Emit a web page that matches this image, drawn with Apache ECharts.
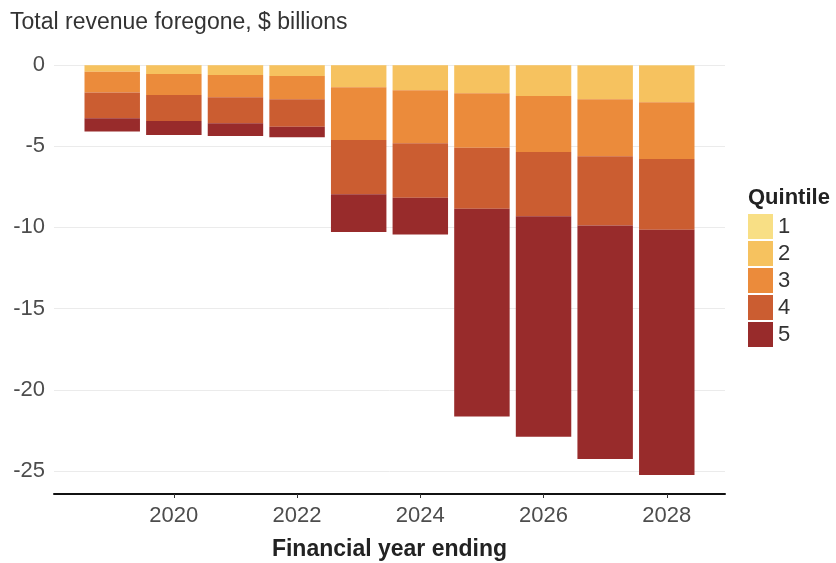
<!DOCTYPE html>
<html>
<head>
<meta charset="utf-8">
<script src="https://cdn.jsdelivr.net/npm/echarts@6/dist/echarts.min.js"></script>
<style>
html, body { margin: 0; padding: 0; background: #fff; }
#chart { width: 836px; height: 563px; }
</style>
</head>
<body>
<div id="chart"></div>
<script>
const years = [ '2019', '2020', '2021', '2022', '2023', '2024', '2025', '2026', '2027', '2028' ];
const tickYears = [ 2020, 2022, 2024, 2026, 2028 ];
const quintiles = [ '1', '2', '3', '4', '5' ];
const colors = [ '#f8df85', '#f6c25f', '#eb8b3b', '#cb5d31', '#982b2b' ];

// revenue foregone per quintile, $ billions (negative)
const q1 = [ -0.01, -0.01, -0.01, -0.01, -0.02, -0.02, -0.02, -0.02, -0.03, -0.03 ];
const q2 = [ -0.40, -0.54, -0.61, -0.67, -1.35, -1.54, -1.72, -1.89, -2.08, -2.27 ];
const q3 = [ -1.29, -1.30, -1.37, -1.43, -3.25, -3.26, -3.35, -3.45, -3.51, -3.49 ];
const q4 = [ -1.58, -1.60, -1.60, -1.69, -3.34, -3.35, -3.76, -3.95, -4.26, -4.36 ];
const q5 = [ -0.82, -0.86, -0.78, -0.65, -2.32, -2.26, -12.80, -13.58, -14.38, -15.10 ];

const font = '"Liberation Sans", Arial, sans-serif';

// outer frame (axis line, gridlines) runs a bit wider than the bars
const xMin = 2018.055;
const xMax = 2028.945;
const frameLeft = 54;
const frameRight = 111;
const width = 836;
const pxPerYear = ( width - frameLeft - frameRight ) / ( xMax - xMin );
const barsLeft = frameLeft + ( 2018.5 - xMin ) * pxPerYear;
const barsRight = frameRight + ( xMax - 2028.5 ) * pxPerYear;

const chart = echarts.init( document.getElementById( 'chart' ), null, { renderer: 'canvas' } );

const series = [ q1, q2, q3, q4, q5 ].map( ( values, i ) => ( {
	name: quintiles[ i ],
	type: 'bar',
	stack: 'total',
	xAxisIndex: 1,
	yAxisIndex: 1,
	barCategoryGap: '10%',
	clip: false,
	itemStyle: { color: colors[ i ] },
	data: values
} ) );

chart.setOption( {
	animation: false,
	textStyle: { fontFamily: font },
	title: [
		{
			text: 'Total revenue foregone, $ billions',
			left: 5,
			top: 6,
			textStyle: { fontSize: 23, fontWeight: 'normal', color: '#333', fontFamily: font }
		},
		{
			text: 'Quintile',
			left: 743,
			top: 182,
			textStyle: { fontSize: 22, fontWeight: 'bold', color: '#222', fontFamily: font }
		}
	],
	legend: {
		orient: 'vertical',
		left: 743,
		top: 209,
		icon: 'rect',
		itemWidth: 25,
		itemHeight: 25,
		itemGap: 2,
		data: quintiles,
		textStyle: { fontSize: 22, color: '#333', fontFamily: font }
	},
	grid: [
		{ left: frameLeft, right: frameRight, top: 65, bottom: 92, outerBoundsMode: 'none' },
		{ left: barsLeft, right: barsRight, top: 65, bottom: 92, outerBoundsMode: 'none' }
	],
	xAxis: [
		{
			type: 'value',
			gridIndex: 0,
			min: xMin,
			max: xMax,
			offset: 23,
			name: 'Financial year ending',
			nameLocation: 'middle',
			nameGap: 44,
			nameTextStyle: { fontSize: 23, fontWeight: 'bold', color: '#222', fontFamily: font },
			axisLine: { show: true, onZero: false, lineStyle: { color: '#111', width: 2 } },
			axisTick: { show: true, customValues: tickYears, length: 4, lineStyle: { color: '#333' } },
			axisLabel: {
				customValues: tickYears,
				fontSize: 22,
				color: '#4d4d4d',
				margin: 11,
				formatter: ( v ) => String( Math.round( v ) )
			},
			splitLine: { show: false }
		},
		{
			type: 'category',
			gridIndex: 1,
			data: years,
			show: false
		}
	],
	yAxis: [
		{
			type: 'value',
			gridIndex: 0,
			min: -25,
			max: 0,
			interval: 5,
			axisLine: { show: false },
			axisTick: { show: false },
			axisLabel: { fontSize: 22, color: '#4d4d4d', margin: 9 },
			splitLine: { lineStyle: { color: '#ebebeb', width: 1 } }
		},
		{
			type: 'value',
			gridIndex: 1,
			min: -25,
			max: 0,
			interval: 5,
			show: false
		}
	],
	series
} );
</script>
</body>
</html>
